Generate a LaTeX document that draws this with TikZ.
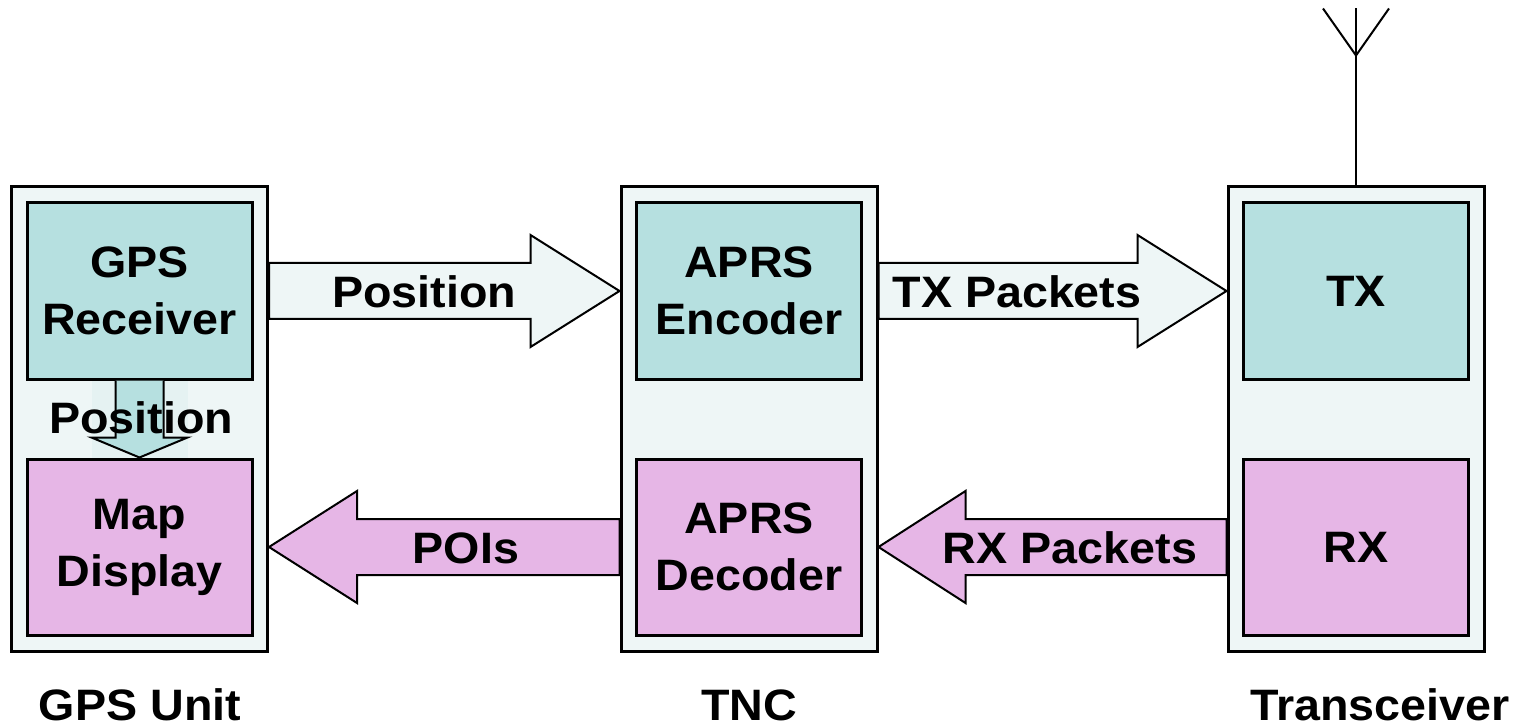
\documentclass[tikz,border=0pt]{standalone}
\usepackage{fontspec}
\setmainfont[FakeStretch=1.06]{Liberation Sans}
\usetikzlibrary{calc}
\definecolor{outerfill}{HTML}{EEF6F6}
\definecolor{tealfill}{HTML}{B6E0E0}
\definecolor{pinkfill}{HTML}{E6B6E6}
\tikzset{
  outerbox/.style={draw=black, line width=1.5pt, fill=outerfill, minimum width=128pt, minimum height=232pt, inner sep=0pt},
  tealbox/.style={draw=black, line width=1.5pt, fill=tealfill, minimum width=112.5pt, minimum height=88pt, inner sep=0pt, align=center, font=\fontsize{22}{28.5}\selectfont\bfseries},
  pinkbox/.style={tealbox, fill=pinkfill},
  arrowshape/.style={draw=black, line width=1pt, line join=miter},
  lbl/.style={font=\fontsize{22}{28.5}\selectfont\bfseries, inner sep=0pt},
}
\begin{document}
\begin{tikzpicture}[x=0.5pt, y=-0.5pt]
\useasboundingbox (0,0) rectangle (1526,727);
% outer boxes
\node[outerbox] (gps) at (139.5,419) {};
\node[outerbox] (tnc) at (749,419) {};
\node[outerbox] (trx) at (1356,419) {};
% inner boxes
\node[tealbox] (recv) at (139.5,291) {GPS\\Receiver};
\node[pinkbox] (map) at (139.5,547) {Map\\Display};
\node[tealbox] (enc) at (749,291) {APRS\\Encoder};
\node[pinkbox] (dec) at (749,547) {APRS\\Decoder};
\node[tealbox] (tx) at (1356,291) {TX};
\node[pinkbox] (rx) at (1356,547) {RX};
% Position arrow (GPS -> TNC)
\coordinate (pa) at (gps.east |- recv.center);
\coordinate (pb) at (tnc.west |- enc.center);
\draw[arrowshape, fill=outerfill] ($(pa)+(0,-28)$) -- ($(pb)+(-89,-28)$) -- ($(pb)+(-89,-56)$) -- (pb)
  -- ($(pb)+(-89,56)$) -- ($(pb)+(-89,28)$) -- ($(pa)+(0,28)$) -- cycle;
\node[lbl] (poslbl) at (424,292) {Position};
% TX Packets arrow (TNC -> Transceiver)
\coordinate (ta) at (tnc.east |- enc.center);
\coordinate (tb) at (trx.west |- tx.center);
\draw[arrowshape, fill=outerfill] ($(ta)+(0,-28)$) -- ($(tb)+(-89,-28)$) -- ($(tb)+(-89,-56)$) -- (tb)
  -- ($(tb)+(-89,56)$) -- ($(tb)+(-89,28)$) -- ($(ta)+(0,28)$) -- cycle;
\node[lbl] (txlbl) at (1017,292) {TX Packets};
% POIs arrow (TNC -> GPS)
\coordinate (qa) at (tnc.west |- dec.center);
\coordinate (qb) at (gps.east |- map.center);
\draw[arrowshape, fill=pinkfill] ($(qa)+(0,-28)$) -- ($(qb)+(88,-28)$) -- ($(qb)+(88,-56)$) -- (qb)
  -- ($(qb)+(88,56)$) -- ($(qb)+(88,28)$) -- ($(qa)+(0,28)$) -- cycle;
\node[lbl] (poilbl) at (466,548) {POIs};
% RX Packets arrow (Transceiver -> TNC)
\coordinate (ra) at (trx.west |- rx.center);
\coordinate (rb) at (tnc.east |- dec.center);
\draw[arrowshape, fill=pinkfill] ($(ra)+(0,-28)$) -- ($(rb)+(87,-28)$) -- ($(rb)+(87,-56)$) -- (rb)
  -- ($(rb)+(87,56)$) -- ($(rb)+(87,28)$) -- ($(ra)+(0,28)$) -- cycle;
\node[lbl] (rxlbl) at (1070,548) {RX Packets};
% vertical Position arrow (receiver -> map)
\coordinate (va) at (recv.south);
\coordinate (vb) at (map.north);
\fill[outerfill!60!tealfill, opacity=0.35] ($(va)+(-48,0)$) rectangle ($(vb)+(48,0)$);
\draw[arrowshape, fill=tealfill] ($(va)+(-24,0)$) -- ($(vb)+(-24,-20)$) -- ($(vb)+(-48,-20)$) -- (vb)
  -- ($(vb)+(48,-20)$) -- ($(vb)+(24,-20)$) -- ($(va)+(24,0)$);
\node[lbl] (vlbl) at (141,418) {Position};
% antenna
\coordinate (antj) at ($(trx.north)+(0,-130)$);
\coordinate (antt) at ($(trx.north)+(0,-177)$);
\coordinate (antl) at ($(trx.north)+(-33,-177)$);
\coordinate (antr) at ($(trx.north)+(33,-177)$);
\draw[line width=1pt] (trx.north) -- (antt);
\draw[line width=1pt] (antl) -- (antj) -- (antr);
% bottom labels
\node[lbl, anchor=base] (gpsname) at (140,720) {GPS Unit};
\node[lbl, anchor=base] (tncname) at (749,720) {TNC};
\node[lbl, anchor=base] (trxname) at (1380,720) {Transceiver};
\end{tikzpicture}
\end{document}
